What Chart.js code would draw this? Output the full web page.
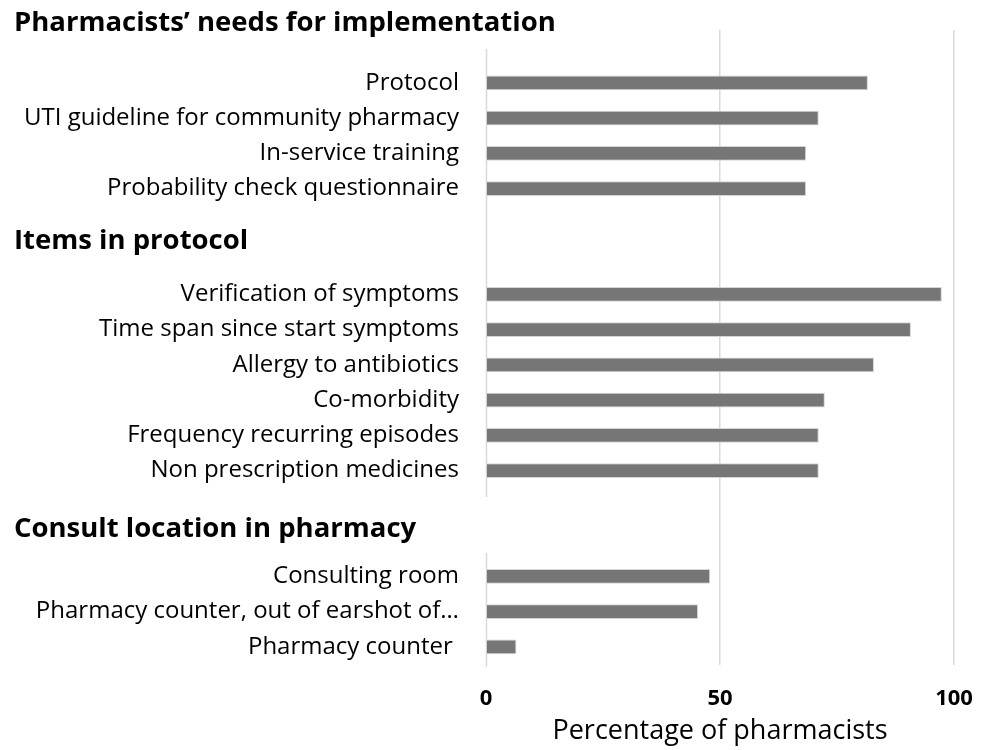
<!DOCTYPE html>
<html>
<head>
<meta charset="utf-8">
<script src="https://cdn.jsdelivr.net/npm/chart.js@4.4.1/dist/chart.umd.min.js"></script>
<style>
  html, body { margin: 0; padding: 0; background: #ffffff; }
  #wrap { width: 986px; height: 750px; }
</style>
</head>
<body>
<div id="wrap"><canvas id="c" width="986" height="750"></canvas></div>
<script>
// ---- data ----
const sectionTitles = [
  'Pharmacists\u2019 needs for implementation',
  'Items in protocol',
  'Consult location in pharmacy'
];
const needsLabels = ['Protocol', 'UTI guideline for community pharmacy', 'In-service training', 'Probability check questionnaire'];
const needsValues = [81.6, 71.1, 68.4, 68.4];
const protocolLabels = ['Verification of symptoms', 'Time span since start symptoms', 'Allergy to antibiotics', 'Co-morbidity', 'Frequency recurring episodes', 'Non prescription medicines'];
const protocolValues = [97.4, 90.8, 82.9, 72.4, 71.1, 71.1];
const locationLabels = ['Consulting room', 'Pharmacy counter, out of earshot of\u2026', 'Pharmacy counter '];
const locationValues = [47.9, 45.3, 6.5];
const xTicks = [0, 50, 100];
const axisTitle = 'Percentage of pharmacists';

// ---- layout (blank rows before each section, heading placement) ----
const sections = [
  { labels: needsLabels, values: needsValues, blankRows: 1 },
  { labels: protocolLabels, values: protocolValues, blankRows: 2 },
  { labels: locationLabels, values: locationValues, blankRows: 2 }
];
const headingOffsets = [-1.68, -1.5, -1.33]; // relative to first row of each section
const labels = [];
const values = [];
const headingRows = [];
const sectionStarts = [];
sections.forEach((s, i) => {
  for (let k = 0; k < s.blankRows; k++) { labels.push(''); values.push(null); }
  sectionStarts.push(labels.length);
  headingRows.push(labels.length + headingOffsets[i]);
  s.labels.forEach((l, j) => { labels.push(l); values.push(s.values[j]); });
});
const lastRow = labels.length - 1;
// zero-line segments in row units
const zeroSegments = [[0.04, sectionStarts[2] - 2.25], [sectionStarts[2] - 0.66, lastRow + 0.57]];

const FONT = '"Open Sans", Lato, sans-serif';

const sectionPlugin = {
  id: 'sectionPlugin',
  beforeDatasetsDraw(chart) {
    const ctx = chart.ctx;
    const x = chart.scales.x, y = chart.scales.y;
    const x0 = Math.round(x.getPixelForValue(0)) + 0.5;
    ctx.save();
    ctx.strokeStyle = '#d9d9d9';
    ctx.lineWidth = 1.5;
    zeroSegments.forEach(seg => {
      ctx.beginPath();
      ctx.moveTo(x0, y.getPixelForValue(seg[0]));
      ctx.lineTo(x0, y.getPixelForValue(seg[1]));
      ctx.stroke();
    });
    ctx.restore();
  },
  afterDraw(chart) {
    const ctx = chart.ctx;
    const y = chart.scales.y;
    ctx.save();
    ctx.fillStyle = '#000000';
    ctx.font = 'bold 27.5px ' + FONT;
    ctx.textAlign = 'left';
    ctx.textBaseline = 'middle';
    sectionTitles.forEach((t, i) => {
      ctx.fillText(t, 14, y.getPixelForValue(headingRows[i]));
    });
    ctx.restore();
  }
};

new Chart(document.getElementById('c'), {
  type: 'bar',
  data: {
    labels: labels,
    datasets: [{
      data: values,
      backgroundColor: '#767676',
      borderColor: '#d4d4d4',
      borderWidth: 1,
      categoryPercentage: 1.0,
      barPercentage: 0.42
    }]
  },
  options: {
    indexAxis: 'y',
    responsive: false,
    animation: false,
    devicePixelRatio: 1,
    layout: { padding: { top: 30, right: 32, left: 0, bottom: 0 } },
    plugins: { legend: { display: false }, tooltip: { enabled: false } },
    scales: {
      x: {
        min: 0, max: 100,
        afterBuildTicks(scale) { scale.ticks = xTicks.map(v => ({ value: v })); },
        afterFit(scale) { scale.height = 85.5; scale.paddingLeft = 0; scale.paddingRight = 0; },
        border: { display: false },
        grid: {
          drawTicks: false,
          lineWidth: 1.5,
          color: ctx => (ctx.tick && ctx.tick.value === 0) ? 'rgba(0,0,0,0)' : '#d9d9d9'
        },
        ticks: {
          padding: 21,
          color: '#000000',
          font: { family: FONT, size: 22, weight: 'bold' }
        },
        title: {
          display: true,
          text: axisTitle,
          color: '#000000',
          font: { family: FONT, size: 27, lineHeight: 1.4 },
          padding: { top: 0, bottom: 0 }
        }
      },
      y: {
        afterFit(scale) { scale.width = 486; scale.paddingTop = 0; scale.paddingBottom = 0; },
        border: { display: false },
        grid: { display: false, drawTicks: false },
        ticks: {
          autoSkip: false,
          padding: 27,
          color: '#000000',
          font: { family: FONT, size: 24 }
        }
      }
    }
  },
  plugins: [sectionPlugin]
});
</script>
</body>
</html>
